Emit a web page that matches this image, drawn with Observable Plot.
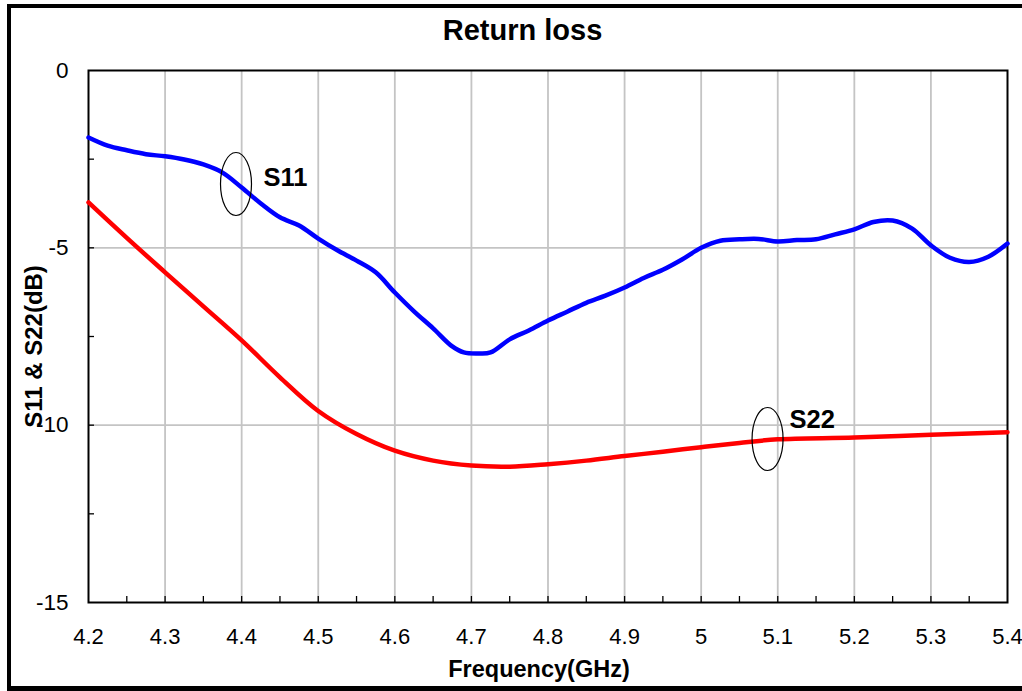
<!DOCTYPE html>
<html>
<head>
<meta charset="utf-8">
<script src="https://cdn.jsdelivr.net/npm/d3@7"></script>
<script src="https://cdn.jsdelivr.net/npm/@observablehq/plot@0.6"></script>
<style>
  html, body { margin: 0; padding: 0; background: white; overflow: hidden; }
  #wrap { position: relative; width: 1022px; height: 691px; font-family: "Liberation Sans", Arial, sans-serif; }
  #border { position: absolute; left: 7px; top: 4px; width: 1020px; height: 687px; box-sizing: border-box; border: 4px solid black; border-right: none; border-bottom: none; pointer-events: none; }
  #border2 { position: absolute; left: 7px; top: 686px; width: 1020px; height: 5px; background: black; }
  #title { position: absolute; left: 0; width: 1045px; top: 13px; text-align: center; font-weight: bold; font-size: 29px; line-height: 34px; color: black; }
  #chart { position: absolute; left: 0; top: 0; }
</style>
</head>
<body>
<div id="wrap">
  <div id="chart"></div>
  <div id="title">Return loss</div>
  <div id="border"></div>
  <div id="border2"></div>
</div>
<script>
// ---- data ----
const s11Freq = [4.200,4.225,4.250,4.275,4.300,4.325,4.350,4.375,4.400,4.425,4.450,4.475,4.500,4.525,4.550,4.575,4.600,4.625,4.650,4.675,4.690,4.710,4.725,4.750,4.775,4.800,4.825,4.850,4.875,4.900,4.925,4.950,4.975,5.000,5.025,5.050,5.075,5.100,5.125,5.150,5.175,5.200,5.225,5.250,5.275,5.300,5.325,5.350,5.375,5.400];
const s11Val  = [-1.89,-2.12,-2.25,-2.36,-2.42,-2.51,-2.65,-2.88,-3.30,-3.75,-4.14,-4.37,-4.74,-5.07,-5.36,-5.69,-6.26,-6.79,-7.27,-7.78,-7.95,-7.98,-7.95,-7.58,-7.33,-7.05,-6.80,-6.55,-6.35,-6.12,-5.85,-5.62,-5.33,-5.00,-4.80,-4.76,-4.75,-4.82,-4.78,-4.76,-4.62,-4.48,-4.27,-4.23,-4.45,-4.93,-5.28,-5.40,-5.25,-4.88];
const s22Freq = [4.20,4.25,4.30,4.35,4.40,4.45,4.50,4.55,4.60,4.65,4.70,4.75,4.80,4.85,4.90,4.95,5.00,5.05,5.10,5.20,5.30,5.40];
const s22Val  = [-3.72,-4.72,-5.69,-6.65,-7.61,-8.65,-9.60,-10.25,-10.72,-11.00,-11.14,-11.17,-11.10,-11.00,-10.87,-10.75,-10.62,-10.50,-10.40,-10.35,-10.27,-10.20];

const xTicks = [4.2,4.3,4.4,4.5,4.6,4.7,4.8,4.9,5.0,5.1,5.2,5.3,5.4];
const xTickLabels = ["4.2","4.3","4.4","4.5","4.6","4.7","4.8","4.9","5","5.1","5.2","5.3","5.4"];
const xMinor = [4.25,4.3,4.35,4.4,4.45,4.5,4.55,4.6,4.65,4.7,4.75,4.8,4.85,4.9,4.95,5.0,5.05,5.1,5.15,5.2,5.25,5.3,5.35];
const yTicks = [0,-5,-10,-15];
const yTickLabels = ["0","-5","-10","-15"];
const yMinor = [-2.5,-5,-7.5,-10,-12.5];
const yGrid = [-5,-10];
const xGrid = [4.3,4.4,4.5,4.6,4.7,4.8,4.9,5.0,5.1,5.2,5.3];

const ellipses = [{x: 4.3926, y: -3.20}, {x: 5.0867, y: -10.39}];
const labels = [{x: 4.4285, y: -3.02, text: "S11"}, {x: 5.1154, y: -9.84, text: "S22"}];

const s11 = s11Freq.map((f, i) => ({f, v: s11Val[i]}));
const s22 = s22Freq.map((f, i) => ({f, v: s22Val[i]}));

// ellipse symbol (rx 15.5, ry 31.5)
const ellipseSymbol = {
  draw(ctx) {
    const rx = 15.5, ry = 31.5, k = 0.5523;
    ctx.moveTo(rx, 0);
    ctx.bezierCurveTo(rx, ry * k, rx * k, ry, 0, ry);
    ctx.bezierCurveTo(-rx * k, ry, -rx, ry * k, -rx, 0);
    ctx.bezierCurveTo(-rx, -ry * k, -rx * k, -ry, 0, -ry);
    ctx.bezierCurveTo(rx * k, -ry, rx, -ry * k, rx, 0);
    ctx.closePath();
  }
};

const FONT = "Liberation Sans, Arial, sans-serif";

const plot = Plot.plot({
  width: 1022,
  height: 691,
  marginLeft: 88,
  marginRight: 15,
  marginTop: 70,
  marginBottom: 89,
  style: {fontFamily: FONT, background: "transparent", color: "black"},
  x: {domain: [4.2, 5.4], axis: null},
  y: {domain: [-15, 0], axis: null},
  marks: [
    Plot.gridX(xGrid, {stroke: "#c4c4c4", strokeOpacity: 1, strokeWidth: 1.8}),
    Plot.gridY(yGrid, {stroke: "#c4c4c4", strokeOpacity: 1, strokeWidth: 1.8}),
    Plot.ruleX(xMinor, {x: d => d, insetTop: 526, stroke: "black", strokeWidth: 1.3}),
    Plot.ruleY(yMinor, {y: d => d, insetRight: 913, stroke: "black", strokeWidth: 1.3}),
    Plot.frame({stroke: "black", strokeWidth: 2}),
    Plot.axisX(xTicks, {tickSize: 0, tickPadding: 26, fontSize: 22, tickFormat: (d, i) => xTickLabels[i]}),
    Plot.axisY(yTicks, {tickSize: 0, tickPadding: 20, fontSize: 22.5, tickFormat: (d, i) => yTickLabels[i]}),
    Plot.line(s22, {x: "f", y: "v", stroke: "#ff0000", strokeWidth: 4.5, curve: "catmull-rom"}),
    Plot.line(s11, {x: "f", y: "v", stroke: "#0000ff", strokeWidth: 4.5, curve: "catmull-rom"}),
    Plot.dot(ellipses, {x: "x", y: "y", symbol: ellipseSymbol, r: 10, fill: "none", stroke: "black", strokeWidth: 1.2}),
    Plot.text(labels, {x: "x", y: "y", text: "text", textAnchor: "start", fontSize: 25.5, fontWeight: "bold", fill: "black"}),
    Plot.text(["Frequency(GHz)"], {frameAnchor: "bottom", textAnchor: "middle", lineAnchor: "bottom", dy: 74, dx: -9, fontSize: 23.5, fontWeight: "bold", fill: "black"}),
    Plot.text(["S11 & S22(dB)"], {frameAnchor: "left", textAnchor: "middle", lineAnchor: "bottom", rotate: -90, dx: -47, dy: 10, fontSize: 24, fontWeight: "bold", fill: "black"})
  ]
});
document.getElementById("chart").appendChild(plot);
</script>
</body>
</html>
